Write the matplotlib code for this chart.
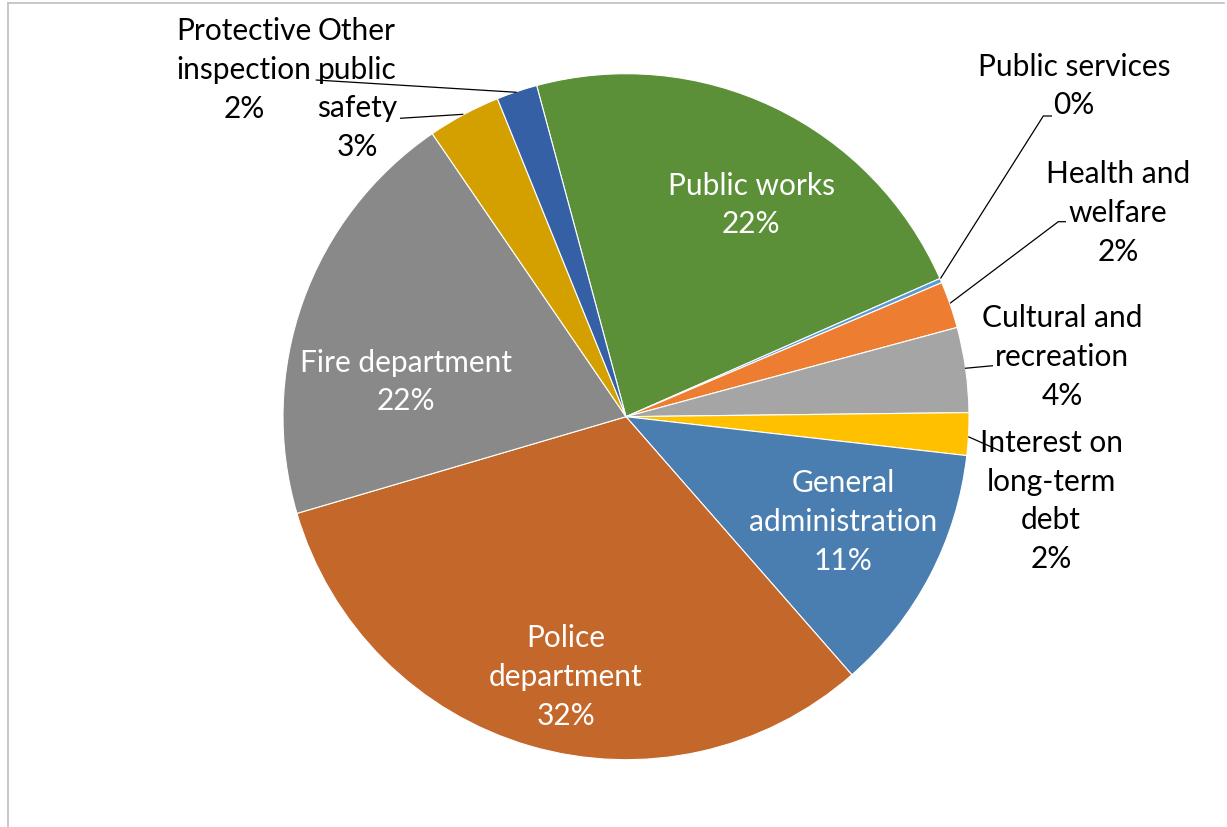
import matplotlib
matplotlib.use("Agg")
import matplotlib.pyplot as plt
from matplotlib.lines import Line2D

# ---------------- data ----------------
categories = ["Public works", "Public services", "Health and welfare",
              "Cultural and recreation", "Interest on long-term debt",
              "General administration", "Police department", "Fire department",
              "Other public safety", "Protective inspection"]
values = [22.6, 0.21, 2.2, 4.0, 2.0, 11.75, 31.9, 20.0, 3.44, 1.92]
pct_labels = ["22%", "0%", "2%", "4%", "2%", "11%", "32%", "22%", "3%", "2%"]
label_text = ["Public works", "Public services", "Health and\nwelfare",
              "Cultural and\nrecreation", "Interest on\nlong-term\ndebt",
              "General\nadministration", "Police\ndepartment", "Fire department",
              "Other\npublic\nsafety", "Protective\ninspection"]

colors = ["#5B9038", "#5B9BD5", "#ED7D31", "#A5A5A5", "#FFC000",
          "#4A7EB0", "#C4672A", "#898989", "#D4A000", "#3560A6"]
inside = [True, False, False, False, False, True, True, True, False, False]

# ---------------- layout ----------------
W, H = 1227, 827
CX, CY, R = 626.0, 416.7, 343.0

def px(x, y):
    return ((x - CX) / R, (CY - y) / R)

# label centres (pixels) and leader lines (pixels)
label_pos = {
    "Public works": (751, 205),
    "Public services": (1074, 86),
    "Health and welfare": (1118, 213),
    "Cultural and recreation": (1062, 357),
    "Interest on long-term debt": (1051, 501),
    "General administration": (843, 522),
    "Police department": (566, 677),
    "Fire department": (406, 382),
    "Other public safety": (357, 89),
    "Protective inspection": (244, 70),
}
leaders = {
    "Public services": [(940.5, 278.5), (1043.3, 116), (1052, 116)],
    "Health and welfare": [(950, 303.3), (1058.3, 221.7), (1066, 221.7)],
    "Cultural and recreation": [(965, 368.3), (993, 365.7)],
    "Interest on long-term debt": [(968.3, 436.7), (1002, 451.7)],
    "Other public safety": [(463.3, 114.3), (400, 118.3)],
    "Protective inspection": [(516.7, 92.3), (315.7, 80)],
}

plt.rcParams["font.family"] = ["Lato", "DejaVu Sans"]
fig = plt.figure(figsize=(W / 100, H / 100), dpi=100)
fig.patch.set_facecolor("white")
ax = fig.add_axes([(CX - R) / W, (H - CY - R) / H, 2 * R / W, 2 * R / H])

start = 90 + (360 - 344.9)
ax.pie(values, colors=colors, startangle=start, counterclock=False, radius=1,
       wedgeprops=dict(edgecolor="white", linewidth=0.8), frame=False)
ax.set_xlim(-1, 1)
ax.set_ylim(-1, 1)
ax.set_aspect("equal")
ax.axis("off")

fs = 21.5
for cat, txt, pct, ins in zip(categories, label_text, pct_labels, inside):
    x, y = px(*label_pos[cat])
    ax.text(x, y, txt + "\n" + pct, ha="center", va="center", multialignment="center",
            fontsize=fs, color="white" if ins else "black", linespacing=1.47,
            clip_on=False)

for cat, pts in leaders.items():
    xs, ys = zip(*[px(*p) for p in pts])
    ax.plot(xs, ys, color="black", lw=0.9, clip_on=False, solid_capstyle="butt")

# chart-area border (cropped on the right and bottom)
fig.add_artist(Line2D([8 / W, 1224 / W], [1 - 2.5 / H, 1 - 2.5 / H],
                      transform=fig.transFigure, color="#BFBFBF", lw=1.2))
fig.add_artist(Line2D([8 / W, 8 / W], [0, 1 - 2.5 / H],
                      transform=fig.transFigure, color="#BFBFBF", lw=1.2))

fig.savefig("out.png", dpi=100, facecolor="white")
